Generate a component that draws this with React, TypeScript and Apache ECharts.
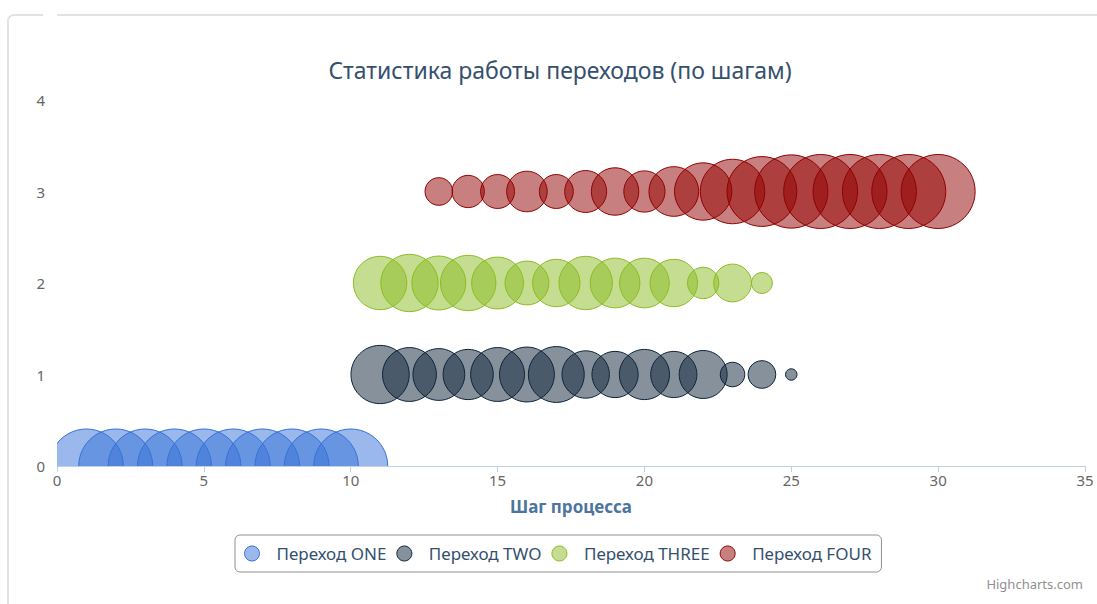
import React, { useEffect, useRef } from "react";
import * as echarts from "echarts";

// ---- data ----
const seriesNames = ["Переход ONE", "Переход TWO", "Переход THREE", "Переход FOUR"];
const seriesColors = ["#3572d8", "#0d233a", "#8bbc21", "#910000"];
const seriesFills = ["rgba(53,114,216,0.5)", "rgba(13,35,58,0.5)", "rgba(139,188,33,0.5)", "rgba(145,0,0,0.5)"];

const rowOne = 0;
const stepsOne = [1, 2, 3, 4, 5, 6, 7, 8, 9, 10];
const sizesOne = [100, 100, 100, 100, 100, 100, 100, 100, 100, 100];

const rowTwo = 1;
const stepsTwo = [11, 12, 13, 14, 15, 16, 17, 18, 19, 20, 21, 22, 23, 24, 25];
const sizesTwo = [62, 53, 49, 46, 53, 55, 57, 41, 39, 46, 39, 42, 11, 14, 2.4];

const rowThree = 2;
const stepsThree = [11, 12, 13, 14, 15, 16, 17, 18, 19, 20, 21, 22, 23, 24];
const sizesThree = [52, 60, 53, 56, 49, 35, 41, 52, 45, 45, 41, 18, 26, 8];

const rowFour = 3;
const stepsFour = [13, 14, 15, 16, 17, 18, 19, 20, 21, 22, 23, 24, 25, 26, 27, 28, 29, 30];
const sizesFour = [14, 19, 21, 30, 21, 32, 41, 31, 45, 60, 76, 89, 98, 100, 100, 100, 100, 100];

const xTicks = [0, 5, 10, 15, 20, 25, 30, 35];
const yTicks = [0, 1, 2, 3, 4];

const titleText = "Статистика работы переходов (по шагам)";
const xAxisTitle = "Шаг процесса";
const creditsText = "Highcharts.com";

const FONT = "'Noto Sans', 'Open Sans', sans-serif";
const MAX_R = 37;

function build(steps: number[], row: number, sizes: number[]) {
  return steps.map((s, i) => [s, row, sizes[i]]);
}

export default function App() {
  const ref = useRef<HTMLDivElement>(null);
  useEffect(() => {
    if (!ref.current) return;
    const chart = echarts.init(ref.current, null, { renderer: "svg" });
    const allData = [
      build(stepsOne, rowOne, sizesOne),
      build(stepsTwo, rowTwo, sizesTwo),
      build(stepsThree, rowThree, sizesThree),
      build(stepsFour, rowFour, sizesFour),
    ];
    chart.setOption({
      animation: false,
      backgroundColor: "#ffffff",
      title: {
        text: titleText,
        left: 560,
        top: 58,
        textAlign: "center",
        padding: 0,
        textStyle: { fontFamily: FONT, fontSize: 23, fontWeight: "normal", color: "#34506e" },
      },
      grid: { left: 57, right: 12, top: 100, bottom: 138, containLabel: false },
      xAxis: {
        type: "value",
        min: xTicks[0],
        max: xTicks[xTicks.length - 1],
        interval: 5,
        name: xAxisTitle,
        nameLocation: "middle",
        nameGap: 32,
        nameTextStyle: { fontFamily: FONT, fontSize: 17, fontWeight: "bold", color: "#4d759e" },
        axisLine: { show: true, lineStyle: { color: "#c0d0e0", width: 1 } },
        axisTick: { show: true, length: 6, lineStyle: { color: "#c0d0e0" } },
        axisLabel: { margin: 6, fontFamily: FONT, fontSize: 15, color: "#666666" },
        splitLine: { show: false },
      },
      yAxis: {
        type: "value",
        min: yTicks[0],
        max: yTicks[yTicks.length - 1],
        interval: 1,
        axisLine: { show: false },
        axisTick: { show: false },
        axisLabel: { margin: 12, fontFamily: FONT, fontSize: 15, color: "#666666" },
        splitLine: { show: false },
      },
      legend: {
        left: 235,
        top: 535,
        orient: "horizontal",
        icon: "circle",
        itemWidth: 15,
        itemHeight: 15,
        itemGap: 10,
        padding: [10, 10, 10, 9],
        borderColor: "#909090",
        borderWidth: 1,
        borderRadius: 5,
        formatter: (name: string) => "{g|}" + name,
        textStyle: {
          fontFamily: FONT,
          fontSize: 17,
          color: "#34506e",
          rich: { g: { width: 12 } },
        },
        data: seriesNames.map((n, i) => ({
          name: n,
          itemStyle: { color: seriesFills[i], borderColor: seriesColors[i], borderWidth: 1 },
        })),
      },
      graphic: [
        {
          type: "rect",
          shape: { x: 8, y: 15, width: 1200, height: 700, r: 6 },
          style: { fill: "none", stroke: "#e2e2e2", lineWidth: 2 },
          silent: true,
        },
        {
          type: "rect",
          shape: { x: 43, y: 12, width: 14, height: 6 },
          style: { fill: "#ffffff" },
          silent: true,
        },
        {
          type: "text",
          right: 14,
          top: 577,
          style: { text: creditsText, fontFamily: FONT, fontSize: 13, fill: "#909090" },
          silent: true,
        },
      ],
      series: allData.map((data, i) => ({
        type: "custom",
        name: seriesNames[i],
        data,
        clip: true,
        encode: { x: 0, y: 1 },
        itemStyle: { color: seriesFills[i], borderColor: seriesColors[i], borderWidth: 1 },
        renderItem: (params: any, api: any) => {
          const c = api.coord([api.value(0), api.value(1)]);
          const r = MAX_R * Math.sqrt(api.value(2) / 100);
          return {
            type: "circle",
            shape: { cx: c[0], cy: c[1], r },
            style: { fill: seriesFills[i], stroke: seriesColors[i], lineWidth: 1 },
          };
        },
      })),
    });
    return () => chart.dispose();
  }, []);
  return (
    <div
      ref={ref}
      style={{ position: "absolute", left: 0, top: 0, width: 1097, height: 604 }}
    />
  );
}
